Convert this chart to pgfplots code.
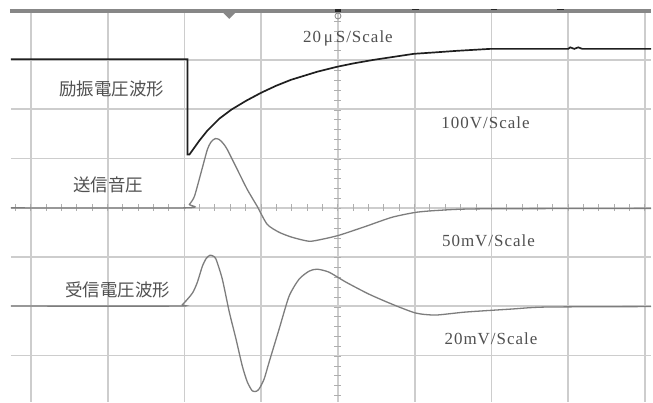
\documentclass[border=0pt]{standalone}
\usepackage{pgfplots}
\pgfplotsset{compat=1.18}
\usepackage{fontspec}
\setmainfont{Liberation Serif}
\newfontfamily\lat[LetterSpace=6]{Liberation Serif}
\newfontfamily\jp{Noto Sans CJK JP}
\definecolor{gridc}{RGB}{205,205,205}
\definecolor{txtc}{RGB}{80,80,80}
\definecolor{wavec}{RGB}{125,125,125}
\definecolor{barc}{RGB}{135,135,135}
\begin{document}
\begin{tikzpicture}
\begin{axis}[
  width=653pt, height=403pt, scale only axis,
  xmin=0, xmax=653, ymin=0, ymax=403, y dir=reverse,
  hide axis, clip=false,
]
\fill[white] (axis cs:0,0) rectangle (axis cs:653,403);
% grid
\pgfplotsinvokeforeach{31,108,185,262,339,416,493,570,647}{
  \draw[gridc, line width=1.8pt] (axis cs:#1,13) -- (axis cs:#1,403);
}
\pgfplotsinvokeforeach{60,109.5,159,208.5,258,307,356.5}{
  \draw[gridc, line width=1.8pt] (axis cs:11,#1) -- (axis cs:653,#1);
}
% minor ticks on centre lines
\pgfplotsinvokeforeach{0,...,41}{
  \draw[gridc!85!black, line width=0.9pt] (axis cs:{15.4+15.4*#1},205) -- (axis cs:{15.4+15.4*#1},212);
}
\pgfplotsinvokeforeach{0,...,39}{
  \draw[gridc!85!black, line width=0.9pt] (axis cs:335.5,{11.5+9.88*#1}) -- (axis cs:342.5,{11.5+9.88*#1});
}
% top bar
\draw[barc, line width=4pt] (axis cs:10,11) -- (axis cs:653,11);
\fill[barc] (axis cs:224,13) -- (axis cs:236,13) -- (axis cs:230,19) -- cycle;
\draw[barc, line width=0.8pt] (axis cs:339,16) circle[radius=3pt];
\fill[black!85] (axis cs:336,9) rectangle (axis cs:342,12);
\fill[black!85] (axis cs:413,9) rectangle (axis cs:420,10.5);
\fill[black!85] (axis cs:492,9) rectangle (axis cs:499,10.5);
\fill[black!85] (axis cs:559,9) rectangle (axis cs:566,10.5);

% excitation voltage
\addplot[black!88, line width=1.7pt] coordinates {
(11,59.5) (188,59.5) (188,155) (190,155) (200,141) (208,131) (220,119)
(232,110) (247,101) (262,93) (277,86) (292,80) (305,76) (318,72)
(338,67) (355,63.5) (375,60) (395,57) (415,54) (437,52.5) (458,51)
(475,50) (492,49) (570,49) (572,47.5) (576,49) (580,47.5) (584,49) (653,49)
};
% transmitted pressure
\addplot[wavec, line width=1.3pt, smooth, tension=0.4] coordinates {
(11,208.5) (186,208.5) (190,205) (195,197) (201.7,173) (208,150) (212,142)
(216,139) (220,140) (224,144) (228,150) (238,170) (248,190) (258,207)
(268,225) (280,233) (293,238) (310,242) (323,240) (340,236) (367,227)
(393,218) (417,213) (440,211) (480,209.5) (653,209)
};
% received voltage
\addplot[wavec, line width=1.3pt, smooth, tension=0.4] coordinates {
(11,307) (177,307) (183,305.5) (193,294) (198,283) (203,267) (207,259)
(210.7,256) (214,257) (216.7,260) (223,280) (230,313) (236.7,340) (243,367)
(248,383) (253,392) (257,392.5) (260,390) (265,380) (270,363) (280,330)
(290,297) (300,280) (310,272) (318,270) (330,273) (347,283) (370,295)
(393,305) (417,314) (437,316) (467,313) (513,310) (547,308) (653,307.5)
};

% labels
\node[txtc, font=\jp\fontsize{17.5}{20}\selectfont] at (axis cs:112,89) {励振電圧波形};
\node[txtc, font=\jp\fontsize{17.5}{20}\selectfont] at (axis cs:108.5,185.5) {送信音圧};
\node[txtc, font=\jp\fontsize{17.5}{20}\selectfont] at (axis cs:118,290.5) {受信電圧波形};
\node[txtc, font=\lat\fontsize{17}{20}\selectfont] at (axis cs:349,39) {20\,μ\,S/Scale};
\node[txtc, font=\lat\fontsize{17}{20}\selectfont] at (axis cs:487,123.5) {100V/Scale};
\node[txtc, font=\lat\fontsize{17}{20}\selectfont] at (axis cs:490,241.5) {50mV/Scale};
\node[txtc, font=\lat\fontsize{17}{20}\selectfont] at (axis cs:492.5,340) {20mV/Scale};
\end{axis}
\end{tikzpicture}
\end{document}
